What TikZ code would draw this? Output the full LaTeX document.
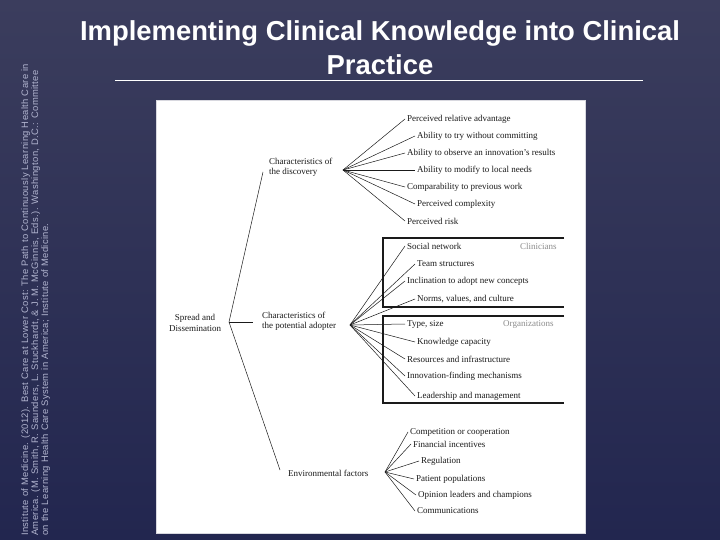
\documentclass[tikz,border=0pt]{standalone}
\usepackage{fontspec}
\setmainfont{Liberation Serif}
\newfontfamily\arialfont{Liberation Sans}
\newfontfamily\citefont[LetterSpace=4]{Liberation Sans}
\definecolor{bgtop}{HTML}{3B3D5D}
\definecolor{bgbot}{HTML}{22264F}
\definecolor{citecol}{HTML}{B0B3CE}
\definecolor{inkcol}{HTML}{1A1A1A}
\tikzset{
  titletext/.style={text=white, font=\arialfont\bfseries\fontsize{27.4bp}{32bp}\selectfont, inner sep=0pt},
  citetext/.style={text=citecol, font=\citefont\fontsize{9.4bp}{10bp}\selectfont, inner sep=0pt, rotate=90, anchor=base west},
  item/.style={text=inkcol, font=\fontsize{9bp}{10.5bp}\selectfont, inner sep=2bp, anchor=west},
  grayitem/.style={item, text=black!45},
  cat/.style={item, align=left},
  fan/.style={draw=inkcol, line width=0.5bp},
  boxline/.style={draw=inkcol, line width=1.1bp},
}
\begin{document}
\begin{tikzpicture}[x=1bp,y=-1bp]
\useasboundingbox (0,0) rectangle (720,540);
\shade[top color=bgtop, bottom color=bgbot] (0,0) rectangle (720,540);

% title
\node[titletext, anchor=base] (t1) at (380,41) {Implementing Clinical Knowledge into Clinical};
\node[titletext, anchor=base] (t2) at (380,75) {Practice};
\coordinate (ulA) at (115,80.5);
\coordinate (ulB) at (643,80.5);
\draw[white, line width=1.4bp] (ulA) -- (ulB);

% citation
\node[citetext] (c1) at (28,536) {Institute of Medicine. (2012). Best Care at Lower Cost: The Path to Continuously Learning Health Care in};
\node[citetext] (c2) at (38,536) {America. (M. Smith, R. Saunders, L. Stuckhardt, \& J. M. McGinnis, Eds.). Washington, D.C.: Committee};
\node[citetext] (c3) at (48,536) {on the Learning Health Care System in America; Institute of Medicine.};

% white panel
\node[fill=white, draw=white!80!bgtop, line width=0.6bp, minimum width=429bp, minimum height=433bp, inner sep=0pt] (panel) at (370.5,316.5) {};

% root
\node[cat, align=center, anchor=center] (root) at (195,323) {Spread and\\Dissemination};
\coordinate (rA) at (229,322);

% categories
\node[cat] (disc) at (267,167.5) {Characteristics of\\the discovery};
\node[cat] (adop) at (260,321.5) {Characteristics of\\the potential adopter};
\node[item] (envi) at (286,473) {Environmental factors};
\coordinate (eA) at (263,172);
\coordinate (eB) at (253,322);
\coordinate (eC) at (280,470);
\draw[fan] (rA) -- (eA);
\draw[fan] (rA) -- (eB);
\draw[fan] (rA) -- (eC);

\coordinate (fd) at (343,170);
\coordinate (fa) at (350,325);
\coordinate (fe) at (385,472);

% discovery items
\node[item] (d1) at (405,119) {Perceived relative advantage};
\node[item] (d2) at (415,136) {Ability to try without committing};
\node[item] (d3) at (405,153) {Ability to observe an innovation's results};
\node[item] (d4) at (415,170) {Ability to modify to local needs};
\node[item] (d5) at (405,187) {Comparability to previous work};
\node[item] (d6) at (415,204) {Perceived complexity};
\node[item] (d7) at (405,221) {Perceived risk};
\foreach \n in {d1,d2,d3,d4,d5,d6,d7} \draw[fan] (fd) -- (\n.west);

% adopter boxes
\coordinate (b1a) at (564,238);
\coordinate (b1b) at (383,238);
\coordinate (b1c) at (383,307);
\coordinate (b1d) at (564,307);
\draw[boxline] (b1a) -- (b1b) -- (b1c) -- (b1d);
\coordinate (b2a) at (564,316);
\coordinate (b2b) at (383,316);
\coordinate (b2c) at (383,403);
\coordinate (b2d) at (564,403);
\draw[boxline] (b2a) -- (b2b) -- (b2c) -- (b2d);

% adopter items
\node[item] (a1) at (405,246) {Social network};
\node[grayitem] (gc) at (518,246) {Clinicians};
\node[item] (a2) at (415,264) {Team structures};
\node[item] (a3) at (405,281) {Inclination to adopt new concepts};
\node[item] (a4) at (415,299) {Norms, values, and culture};
\node[item] (a5) at (405,324) {Type, size};
\node[grayitem] (go) at (501,324) {Organizations};
\node[item] (a6) at (415,342) {Knowledge capacity};
\node[item] (a7) at (405,359) {Resources and infrastructure};
\node[item] (a8) at (405,376) {Innovation-finding mechanisms};
\node[item] (a9) at (415,396) {Leadership and management};
\foreach \n in {a1,a2,a3,a4,a5,a6,a7,a8,a9} \draw[fan] (fa) -- (\n.west);

% environment items
\node[item] (e1) at (408,432) {Competition or cooperation};
\node[item] (e2) at (411,444) {Financial incentives};
\node[item] (e3) at (419,461) {Regulation};
\node[item] (e4) at (414,479) {Patient populations};
\node[item] (e5) at (416,495) {Opinion leaders and champions};
\node[item] (e6) at (415,511) {Communications};
\foreach \n in {e1,e2,e3,e4,e5,e6} \draw[fan] (fe) -- (\n.west);
\end{tikzpicture}
\end{document}
